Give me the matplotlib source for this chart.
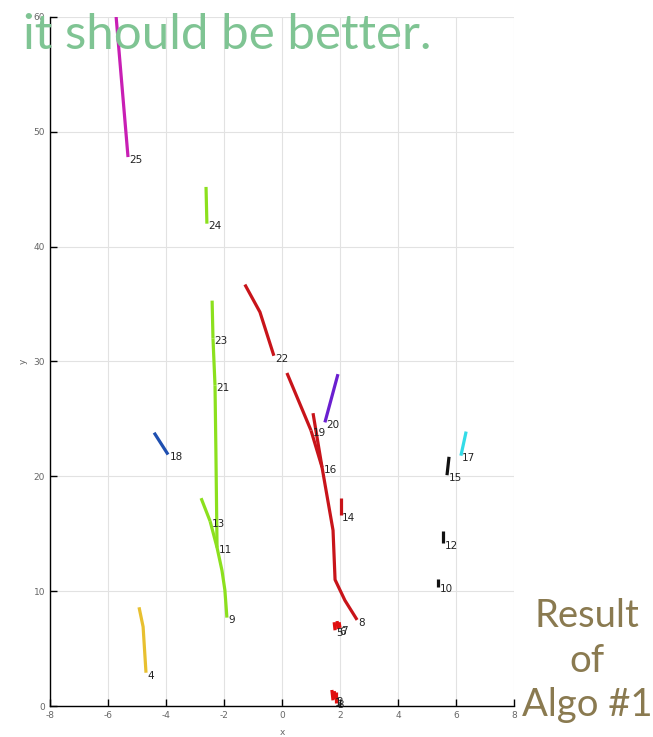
import numpy as np
import matplotlib.pyplot as plt

plt.rcParams["axes.unicode_minus"] = False

# tracks: id -> (x list, y list), label goes at the last point
track_ids = [25, 24, 23, 21, 11, 13, 9, 18, 4, 22, 19, 16, 8, 20, 14, 17, 15, 12, 10, 5, 6, 7, 1, 2, 3]
track_x = {
    25: [-5.72, -5.31],
    24: [-2.62, -2.59],
    23: [-2.41, -2.38],
    21: [-2.38, -2.31],
    11: [-2.31, -2.28, -2.24],
    13: [-2.79, -2.48],
    9: [-2.48, -2.24, -2.07, -1.97, -1.90],
    18: [-4.41, -3.93],
    4: [-4.93, -4.79, -4.69],
    22: [-1.28, -0.76, -0.28],
    19: [0.17, 1.00],
    16: [1.07, 1.38],
    8: [1.00, 1.38, 1.76, 1.83, 2.17, 2.59],
    20: [1.93, 1.48],
    14: [2.03, 2.03],
    17: [6.35, 6.17],
    15: [5.76, 5.69],
    12: [5.55, 5.55],
    10: [5.38, 5.38],
    5: [1.80, 1.83],
    6: [1.90, 1.93],
    7: [1.97, 2.00],
    1: [1.72, 1.76],
    2: [1.80, 1.83],
    3: [1.86, 1.86],
}
track_y = {
    25: [60.0, 47.8],
    24: [45.2, 42.0],
    23: [35.3, 32.0],
    21: [32.0, 27.9],
    11: [27.9, 22.3, 13.8],
    13: [18.1, 16.1],
    9: [16.1, 13.8, 11.8, 10.1, 7.7],
    18: [23.8, 21.9],
    4: [8.6, 6.9, 2.9],
    22: [36.7, 34.3, 30.5],
    19: [29.0, 24.0],
    16: [25.5, 20.8],
    8: [24.0, 20.8, 15.3, 11.0, 9.2, 7.5],
    20: [28.9, 24.7],
    14: [18.1, 16.6],
    17: [23.9, 21.8],
    15: [21.7, 20.1],
    12: [15.2, 14.2],
    10: [11.1, 10.4],
    5: [7.3, 6.6],
    6: [7.4, 6.7],
    7: [7.3, 6.8],
    1: [1.4, 0.5],
    2: [1.3, 0.6],
    3: [1.2, 0.3],
}
track_col = {
    25: "#c81fb4", 24: "#8ce01e", 23: "#8ce01e", 21: "#8ce01e", 11: "#8ce01e",
    13: "#8ce01e", 9: "#8ce01e", 18: "#1f4fb0", 4: "#e8c030", 22: "#c8141a",
    19: "#c8141a", 16: "#c8141a", 8: "#c8141a", 20: "#6a1fd0", 14: "#c8141a",
    17: "#33dce8", 15: "#111111", 12: "#111111", 10: "#111111", 5: "#e01010",
    6: "#e01010", 7: "#e01010", 1: "#e01010", 2: "#e01010", 3: "#e01010",
}

xticks = np.arange(-8, 9, 2)
yticks = np.arange(0, 61, 10)

fig = plt.figure(figsize=(6.53, 7.37), dpi=100)
ax = fig.add_axes([0.0766, 0.042, 0.7105, 0.935])

for t in track_ids:
    ax.plot(track_x[t], track_y[t], color=track_col[t], lw=2.3, solid_capstyle="butt", zorder=3)
    ax.annotate(str(t), (track_x[t][-1], track_y[t][-1]), xytext=(1, -2),
                textcoords="offset points", fontsize=7.5, color="#222222",
                ha="left", va="center", zorder=4)

ax.set_xlim(-8, 8)
ax.set_ylim(0, 60)
ax.set_xticks(xticks)
ax.set_yticks(yticks)
ax.grid(True, color="#e2e2e2", lw=0.8)
ax.set_axisbelow(True)
ax.spines["top"].set_visible(False)
ax.spines["right"].set_visible(False)
ax.spines["left"].set_linewidth(1.0)
ax.spines["bottom"].set_linewidth(1.0)
ax.tick_params(direction="in", length=5, width=1.0, labelsize=6.5, labelcolor="#666666")
ax.set_xlabel("x", fontsize=6.5, color="#666666", labelpad=6)
ax.set_ylabel("y", fontsize=6.5, color="#666666", labelpad=4)

fig.text(0.035, 0.933, "it should be better.", fontsize=35.5, color="#7fc493",
         family="Lato", ha="left", va="baseline")
fig.text(0.899, 0.028, "Result\nof\nAlgo #1", fontsize=27.5, color="#8a7a50",
         family="Lato", ha="center", va="baseline", linespacing=1.3)

fig.savefig("out.png", dpi=100)
